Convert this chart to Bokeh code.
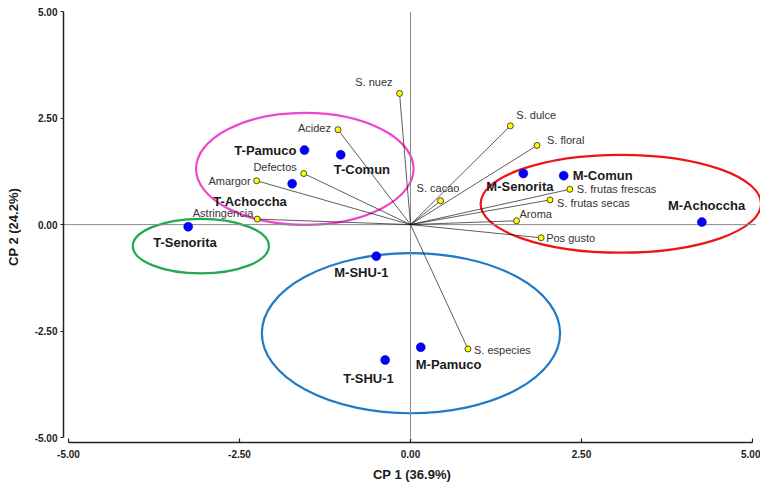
from bokeh.plotting import figure
from bokeh.models import Range1d, FixedTicker, PrintfTickFormatter, ColumnDataSource
from bokeh.core.properties import value
from bokeh.embed import file_html
from bokeh.resources import INLINE

# ---- data ----
samples = ["T-Pamuco", "T-Comun", "T-Achoccha", "T-Senorita", "M-SHU-1",
           "T-SHU-1", "M-Pamuco", "M-Senorita", "M-Comun", "M-Achoccha"]
s_cp1 = [-1.55, -1.02, -1.73, -3.25, -0.50, -0.37, 0.15, 1.65, 2.24, 4.26]
s_cp2 = [1.75, 1.64, 0.96, -0.05, -0.74, -3.18, -2.88, 1.20, 1.15, 0.06]

variables = ["S. nuez", "S. dulce", "S. floral", "S. cacao", "S. frutas frescas",
             "S. frutas secas", "Aroma", "Pos gusto", "S. especies", "Acidez",
             "Defectos", "Amargor", "Astringencia"]
v_cp1 = [-0.16, 1.46, 1.85, 0.44, 2.33, 2.04, 1.55, 1.91, 0.84, -1.06, -1.56, -2.25, -2.24]
v_cp2 = [3.08, 2.32, 1.86, 0.56, 0.83, 0.58, 0.09, -0.31, -2.92, 2.23, 1.20, 1.03, 0.13]

# group ellipses (centre, width, height in axis units)
ell_x = [-1.545, -3.065, 0.007, 3.075]
ell_y = [1.31, -0.505, -2.55, 0.49]
ell_w = [3.18, 1.99, 4.36, 4.10]
ell_h = [2.63, 1.28, 3.76, 2.30]

ticks = [-5.0, -2.5, 0.0, 2.5, 5.0]
x_title = "CP 1 (36.9%)"
y_title = "CP 2 (24.2%)"

# ---- label placement (screen px) ----
s_dx = [-8, -7, -79, -35, -42, -42, -5, -37, 9, -34]
s_dy = [0, 15, 18, 15.5, 16, 18, 17.5, 13, 0, -17]
s_align = ["right", "left", "left", "left", "left", "left", "left", "left", "left", "left"]

v_dx = [-7, 6, 10, -24, 7, 7, 3, 5, 6, -7, -7, -6, -4]
v_dy = [-11, -11, -5, -13, 0, 3, -7, 0, 1, -2, -7, 0, -6]
v_align = ["right", "left", "left", "left", "left", "left", "left", "left", "left",
           "right", "right", "right", "right"]

ell_colors = ["#EE46CC", "#22AA50", "#1F7AC8", "#EE1515"]

p = figure(width=760, height=485, output_backend="svg", toolbar_location=None,
           x_range=Range1d(-5.073, 5.117), y_range=Range1d(-5.117, 5.005),
           min_border_left=63, min_border_right=0, min_border_top=11, min_border_bottom=43)
p.outline_line_color = None
p.xgrid.visible = False
p.ygrid.visible = False
p.background_fill_color = "white"

# axes
for ax in (p.xaxis[0], p.yaxis[0]):
    ax.ticker = FixedTicker(ticks=ticks)
    ax.formatter = PrintfTickFormatter(format="%.2f")
    ax.bounds = (-5, 5)
    ax.axis_line_color = "#222222"
    ax.axis_line_width = 1.5
    ax.major_tick_line_color = "#222222"
    ax.major_tick_line_width = 1.2
    ax.minor_tick_line_color = None
    ax.major_label_text_font = "Liberation Sans"
    ax.major_label_text_font_style = "bold"
    ax.major_label_text_font_size = "10px"
    ax.major_label_text_color = "#222222"
    ax.axis_label_text_font = "Liberation Sans"
    ax.axis_label_text_font_style = "bold"
    ax.axis_label_text_font_size = "13px"
    ax.axis_label_text_color = "#1a1a1a"

p.xaxis.axis_label = x_title
p.yaxis.axis_label = y_title
p.xaxis.major_tick_in = 4
p.xaxis.major_tick_out = 0
p.xaxis.major_label_standoff = 7
p.xaxis.axis_label_standoff = 6
p.yaxis.major_tick_in = 0
p.yaxis.major_tick_out = 3
p.yaxis.major_label_standoff = 3
p.yaxis.axis_label_standoff = 11

# group ellipses
p.ellipse(x=ell_x, y=ell_y, width=ell_w, height=ell_h, fill_color=None,
          line_color=ell_colors, line_width=2.2)

# zero reference lines
p.segment(x0=[0, -5.073], y0=[-5, 0], x1=[0, 5.05], y1=[5, 0],
          line_color="#8a8a8a", line_width=1)

# loading vectors from the origin
p.segment(x0=[0] * len(v_cp1), y0=[0] * len(v_cp2), x1=v_cp1, y1=v_cp2,
          line_color="#111111", line_width=0.8, line_alpha=0.85)

# points
p.scatter(v_cp1, v_cp2, size=6, fill_color="#FFFF00", line_color="#222222", line_width=0.8)
p.scatter(s_cp1, s_cp2, size=9, fill_color="#0000FF", line_color="#0000AA", line_width=0.5)

vsrc = ColumnDataSource(dict(x=v_cp1, y=v_cp2, t=variables, dx=v_dx, dy=v_dy, al=v_align))
p.text(x="x", y="y", text="t", x_offset="dx", y_offset="dy", text_align="al",
       text_baseline="middle", text_font=value("Liberation Sans"),
       text_font_size="11px", text_color="#333333", source=vsrc)

ssrc = ColumnDataSource(dict(x=s_cp1, y=s_cp2, t=samples, dx=s_dx, dy=s_dy, al=s_align))
p.text(x="x", y="y", text="t", x_offset="dx", y_offset="dy", text_align="al",
       text_baseline="middle", text_font=value("Liberation Sans"), text_font_style="bold",
       text_font_size="13px", text_color="#1a1a1a", source=ssrc)

open("out.html", "w").write(file_html(p, INLINE))
